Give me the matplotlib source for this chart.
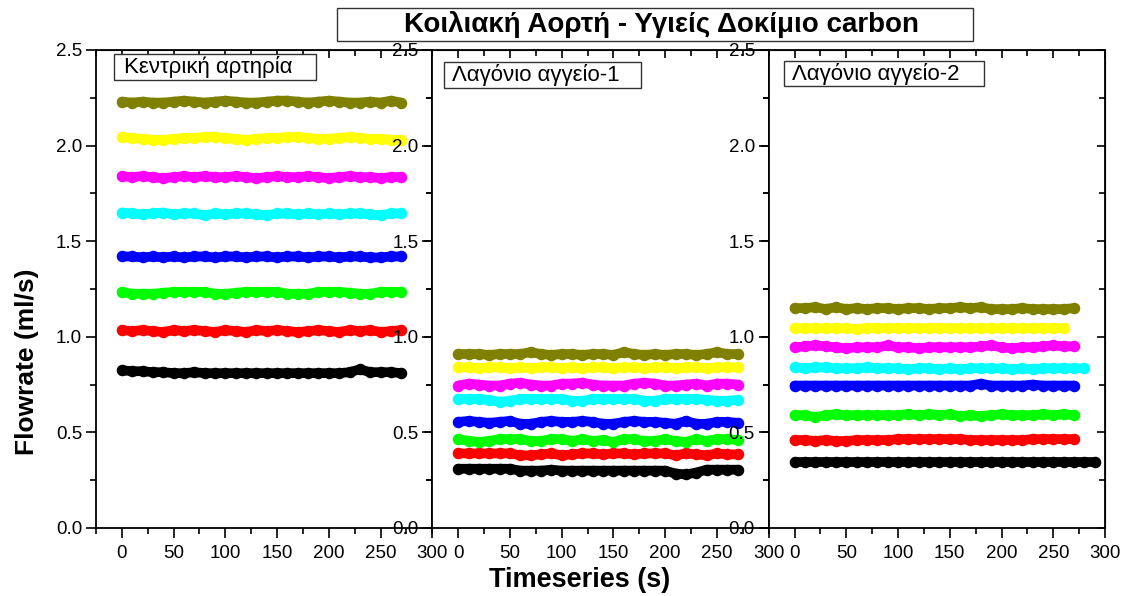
import matplotlib
matplotlib.use("Agg")
import matplotlib.pyplot as plt
from matplotlib.ticker import MultipleLocator, NullFormatter, FormatStrFormatter
from matplotlib.patches import Rectangle

plt.rcParams['font.family'] = ['Liberation Sans', 'DejaVu Sans']

# time stamps (s) shared by every series; each series uses the first len(values)
time_s = [0, 10, 20, 30, 40, 50, 60, 70, 80, 90, 100, 110, 120, 130, 140, 150,
          160, 170, 180, 190, 200, 210, 220, 230, 240, 250, 260, 270, 280, 290]

colors = ['black', '#ff0000', '#00ff00', '#0000ff', '#00ffff', '#ff00ff', '#ffff00', '#808000']

panel_titles = ['Κεντρική αρτηρία', 'Λαγόνιο αγγείο-1', 'Λαγόνιο αγγείο-2']

# --- Κεντρική αρτηρία
p1_black = [0.825, 0.82, 0.82, 0.815, 0.815, 0.81, 0.81, 0.815, 0.81, 0.81, 0.81, 0.81, 0.81, 0.81,
            0.81, 0.81, 0.81, 0.81, 0.81, 0.81, 0.81, 0.81, 0.815, 0.83, 0.815, 0.815, 0.815, 0.81]
p1_red = [1.035, 1.03, 1.035, 1.03, 1.025, 1.035, 1.03, 1.035, 1.03, 1.025, 1.035, 1.03, 1.025, 1.035,
          1.03, 1.035, 1.03, 1.025, 1.03, 1.035, 1.03, 1.025, 1.035, 1.03, 1.035, 1.025, 1.03, 1.035]
p1_green = [1.235, 1.225, 1.225, 1.225, 1.23, 1.235, 1.235, 1.235, 1.235, 1.225, 1.225, 1.23, 1.235, 1.235,
            1.235, 1.235, 1.225, 1.225, 1.225, 1.235, 1.235, 1.235, 1.23, 1.225, 1.225, 1.235, 1.235, 1.235]
p1_blue = [1.42, 1.42, 1.415, 1.42, 1.415, 1.42, 1.415, 1.42, 1.42, 1.415, 1.42, 1.42, 1.415, 1.42,
           1.42, 1.415, 1.42, 1.42, 1.415, 1.42, 1.42, 1.415, 1.42, 1.42, 1.415, 1.415, 1.42, 1.42]
p1_cyan = [1.65, 1.645, 1.64, 1.645, 1.65, 1.64, 1.645, 1.645, 1.635, 1.645, 1.64, 1.645, 1.645, 1.64,
           1.635, 1.645, 1.645, 1.64, 1.645, 1.64, 1.645, 1.64, 1.645, 1.645, 1.64, 1.635, 1.645, 1.645]
p1_magenta = [1.84, 1.835, 1.84, 1.835, 1.83, 1.835, 1.84, 1.835, 1.84, 1.835, 1.835, 1.84, 1.835, 1.83,
              1.835, 1.84, 1.835, 1.835, 1.84, 1.835, 1.83, 1.835, 1.84, 1.835, 1.835, 1.83, 1.835, 1.835]
p1_yellow = [2.045, 2.04, 2.035, 2.03, 2.03, 2.035, 2.04, 2.04, 2.045, 2.045, 2.04, 2.035, 2.03, 2.035,
             2.04, 2.04, 2.045, 2.045, 2.04, 2.035, 2.035, 2.04, 2.045, 2.04, 2.035, 2.035, 2.03, 2.03]
p1_olive = [2.23, 2.225, 2.23, 2.225, 2.225, 2.23, 2.235, 2.23, 2.225, 2.23, 2.235, 2.23, 2.225, 2.225,
            2.23, 2.235, 2.235, 2.23, 2.225, 2.23, 2.235, 2.23, 2.225, 2.225, 2.23, 2.225, 2.235, 2.225]

# --- Λαγόνιο αγγείο-1
p2_black = [0.31, 0.31, 0.31, 0.31, 0.31, 0.31, 0.30, 0.30, 0.30, 0.305, 0.30, 0.30, 0.30, 0.30,
            0.30, 0.30, 0.30, 0.30, 0.30, 0.30, 0.30, 0.285, 0.28, 0.29, 0.305, 0.305, 0.305, 0.305]
p2_red = [0.39, 0.39, 0.39, 0.39, 0.39, 0.39, 0.38, 0.38, 0.385, 0.39, 0.38, 0.385, 0.39, 0.39,
          0.385, 0.39, 0.39, 0.385, 0.39, 0.39, 0.39, 0.38, 0.39, 0.385, 0.38, 0.39, 0.385, 0.385]
p2_green = [0.465, 0.455, 0.45, 0.455, 0.465, 0.465, 0.465, 0.455, 0.455, 0.465, 0.465, 0.455, 0.465, 0.455,
            0.46, 0.45, 0.465, 0.465, 0.455, 0.455, 0.465, 0.455, 0.45, 0.465, 0.455, 0.465, 0.465, 0.46]
p2_blue = [0.555, 0.56, 0.555, 0.55, 0.555, 0.56, 0.545, 0.545, 0.555, 0.56, 0.555, 0.555, 0.56, 0.555,
           0.545, 0.545, 0.555, 0.56, 0.555, 0.555, 0.55, 0.545, 0.56, 0.545, 0.545, 0.555, 0.555, 0.55]
p2_cyan = [0.675, 0.675, 0.675, 0.67, 0.66, 0.665, 0.675, 0.675, 0.675, 0.675, 0.675, 0.665, 0.665, 0.675,
           0.675, 0.675, 0.675, 0.675, 0.665, 0.665, 0.675, 0.675, 0.675, 0.675, 0.67, 0.665, 0.665, 0.67]
p2_magenta = [0.745, 0.755, 0.75, 0.745, 0.745, 0.755, 0.76, 0.75, 0.745, 0.745, 0.755, 0.755, 0.76, 0.75,
              0.745, 0.745, 0.745, 0.755, 0.76, 0.755, 0.745, 0.745, 0.75, 0.755, 0.745, 0.755, 0.755, 0.75]
p2_yellow = [0.84, 0.84, 0.835, 0.84, 0.84, 0.835, 0.84, 0.835, 0.84, 0.84, 0.835, 0.84, 0.835, 0.84,
             0.84, 0.835, 0.84, 0.84, 0.835, 0.84, 0.84, 0.835, 0.84, 0.84, 0.835, 0.84, 0.84, 0.84]
p2_olive = [0.91, 0.91, 0.91, 0.905, 0.91, 0.91, 0.91, 0.92, 0.91, 0.905, 0.91, 0.91, 0.905, 0.91,
            0.91, 0.905, 0.92, 0.91, 0.905, 0.91, 0.905, 0.91, 0.91, 0.905, 0.91, 0.92, 0.91, 0.91]

# --- Λαγόνιο αγγείο-2
p3_black = [0.345, 0.345, 0.345, 0.345, 0.345, 0.345, 0.345, 0.345, 0.345, 0.345, 0.345, 0.345, 0.345, 0.345, 0.345,
            0.345, 0.345, 0.345, 0.345, 0.345, 0.345, 0.345, 0.345, 0.345, 0.345, 0.345, 0.345, 0.345, 0.345, 0.345]
p3_red = [0.46, 0.46, 0.455, 0.46, 0.455, 0.455, 0.46, 0.46, 0.46, 0.46, 0.465, 0.465, 0.465, 0.465,
          0.465, 0.465, 0.465, 0.46, 0.46, 0.46, 0.46, 0.46, 0.46, 0.465, 0.465, 0.465, 0.465, 0.465]
p3_green = [0.59, 0.59, 0.58, 0.59, 0.595, 0.59, 0.59, 0.59, 0.59, 0.59, 0.59, 0.595, 0.59, 0.595,
            0.59, 0.595, 0.585, 0.59, 0.585, 0.59, 0.595, 0.59, 0.59, 0.59, 0.595, 0.59, 0.595, 0.59]
p3_blue = [0.745, 0.745, 0.745, 0.745, 0.745, 0.745, 0.745, 0.745, 0.745, 0.745, 0.745, 0.745, 0.745, 0.745,
           0.745, 0.745, 0.745, 0.745, 0.755, 0.745, 0.745, 0.745, 0.745, 0.75, 0.745, 0.745, 0.745, 0.745]
p3_cyan = [0.84, 0.835, 0.84, 0.84, 0.835, 0.835, 0.835, 0.84, 0.835, 0.835, 0.835, 0.83, 0.835, 0.835,
           0.83, 0.835, 0.83, 0.835, 0.835, 0.835, 0.835, 0.83, 0.835, 0.83, 0.835, 0.835, 0.835, 0.835, 0.835]
p3_magenta = [0.945, 0.95, 0.955, 0.95, 0.945, 0.94, 0.945, 0.945, 0.945, 0.955, 0.945, 0.945, 0.94, 0.945,
              0.945, 0.945, 0.945, 0.945, 0.95, 0.955, 0.945, 0.94, 0.945, 0.945, 0.95, 0.955, 0.95, 0.95]
p3_yellow = [1.045, 1.045, 1.045, 1.045, 1.045, 1.045, 1.04, 1.045, 1.045, 1.045, 1.045, 1.045, 1.045, 1.045,
             1.045, 1.045, 1.045, 1.045, 1.045, 1.045, 1.045, 1.045, 1.045, 1.045, 1.045, 1.045, 1.045]
p3_olive = [1.15, 1.15, 1.155, 1.145, 1.155, 1.145, 1.15, 1.145, 1.15, 1.15, 1.145, 1.15, 1.15, 1.145,
            1.15, 1.15, 1.155, 1.15, 1.155, 1.145, 1.145, 1.145, 1.15, 1.145, 1.145, 1.145, 1.145, 1.15]

panels = [
    [p1_black, p1_red, p1_green, p1_blue, p1_cyan, p1_magenta, p1_yellow, p1_olive],
    [p2_black, p2_red, p2_green, p2_blue, p2_cyan, p2_magenta, p2_yellow, p2_olive],
    [p3_black, p3_red, p3_green, p3_blue, p3_cyan, p3_magenta, p3_yellow, p3_olive],
]

W, H = 1126, 596
fig = plt.figure(figsize=(W / 100, H / 100), dpi=100)
gs = fig.add_gridspec(1, 3, left=96 / W, right=1105 / W, bottom=1 - 528 / H, top=1 - 50 / H, wspace=0)

label_pos = [(124, 67), (452, 75), (792, 74)]
label_box = [(114, 54, 316, 80), (444, 62, 641, 88), (784, 61, 984, 86)]

for k, series in enumerate(panels):
    ax = fig.add_subplot(gs[0, k])
    for vals, c in zip(series, colors):
        ax.plot(time_s[:len(vals)], vals, color=c, lw=7, marker='o', ms=7.3,
                solid_capstyle='round', solid_joinstyle='round')
    ax.set_xlim(-25, 300)
    ax.set_ylim(0, 2.5)
    ax.xaxis.set_major_locator(MultipleLocator(50))
    ax.xaxis.set_minor_locator(MultipleLocator(25))
    ax.yaxis.set_major_locator(MultipleLocator(0.5))
    ax.yaxis.set_minor_locator(MultipleLocator(0.25))
    ax.yaxis.set_major_formatter(FormatStrFormatter('%.1f'))
    ax.tick_params(which='both', direction='out', width=1.2, labelsize=13.5, colors='black')
    ax.tick_params(which='major', length=7)
    ax.tick_params(which='minor', length=4)
    ax.tick_params(axis='x', pad=5)
    ax.tick_params(axis='y', pad=3)
    for sp in ax.spines.values():
        sp.set_linewidth(1.3)

    # inward ticks on top and right
    top = ax.secondary_xaxis('top')
    top.xaxis.set_major_locator(MultipleLocator(50))
    top.xaxis.set_minor_locator(MultipleLocator(25))
    top.xaxis.set_major_formatter(NullFormatter())
    top.tick_params(which='both', direction='in', width=1.2)
    top.tick_params(which='major', length=6)
    top.tick_params(which='minor', length=4)
    right = ax.secondary_yaxis('right')
    right.yaxis.set_major_locator(MultipleLocator(0.5))
    right.yaxis.set_minor_locator(MultipleLocator(0.25))
    right.yaxis.set_major_formatter(NullFormatter())
    right.tick_params(which='both', direction='in', width=1.2)
    right.tick_params(which='major', length=6)
    right.tick_params(which='minor', length=4)

    x0, y0, x1, y1 = label_box[k]
    fig.patches.append(Rectangle((x0 / W, 1 - y1 / H), (x1 - x0) / W, (y1 - y0) / H,
                                 transform=fig.transFigure, fill=True, facecolor='white',
                                 edgecolor='#333333', lw=1.0, zorder=5))
    tx, ty = label_pos[k]
    fig.text(tx / W, 1 - ty / H, panel_titles[k], fontsize=16, ha='left', va='center', zorder=6)

# title box
fig.patches.append(Rectangle((337 / W, 1 - 41 / H), (973 - 337) / W, (41 - 8) / H,
                             transform=fig.transFigure, facecolor='white', edgecolor='#333333',
                             lw=1.0, zorder=5))
fig.text(661 / W, 1 - 25 / H, 'Κοιλιακή Αορτή - Υγιείς Δοκίμιο carbon', fontsize=20,
         fontweight='bold', ha='center', va='center', zorder=6)

fig.text(580 / W, 1 - 580 / H, 'Timeseries (s)', fontsize=19.5, fontweight='bold', ha='center', va='center')
fig.text(27 / W, 1 - 362 / H, 'Flowrate (ml/s)', fontsize=19, fontweight='bold', ha='center',
         va='center', rotation=90)

fig.savefig('out.png', dpi=100)
